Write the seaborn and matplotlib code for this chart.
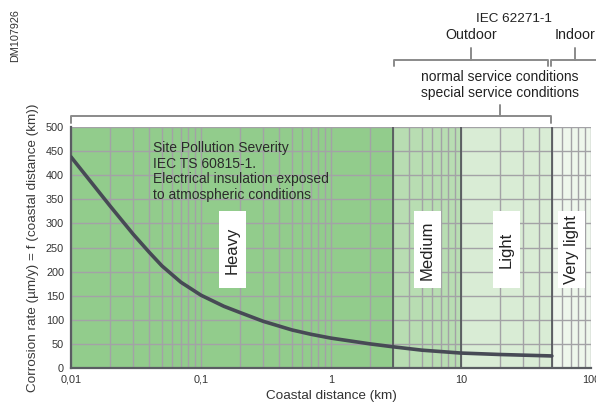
import matplotlib
matplotlib.use("Agg")
from matplotlib import pyplot as plt
from matplotlib.lines import Line2D
from matplotlib.patches import Rectangle
from matplotlib.ticker import FixedLocator, LogLocator, NullFormatter
import pandas as pd
import seaborn as sns

# corrosion curve
distance_km = [0.01, 0.02, 0.03, 0.04, 0.05, 0.07, 0.1, 0.15, 0.2, 0.3, 0.5, 0.7, 1, 2, 3, 5, 10, 20, 50]
corrosion = [438, 336, 278, 240, 212, 178, 151, 128, 115, 97, 79, 70, 62, 50, 44, 37, 31, 28, 25]

# pollution severity zones
zone_edges = [0.01, 3, 10, 50, 100]
zone_names = ["Heavy", "Medium", "Light", "Very light"]
zone_colors = ["#92cc8c", "#b8ddb2", "#d9ecd5", "#eef7ec"]

x_ticks = [0.01, 0.1, 1, 10, 100]
x_tick_labels = ["0,01", "0,1", "1", "10", "100"]
y_ticks = list(range(0, 501, 50))

W, H = 596, 408

sns.set_style("white")
plt.rcParams['font.family'] = ['Liberation Sans', 'DejaVu Sans']

fig = plt.figure(figsize=(W / 100, H / 100), dpi=100)
ax = fig.add_axes([71 / W, 40 / H, 520 / W, 241 / H])


def px(x, y):
    # pixel position (from top-left) -> figure fraction
    return x / W, 1 - y / H


def fig_line(xs, ys, color="#8a8a8a", lw=1.4):
    fx = [x / W for x in xs]
    fy = [1 - y / H for y in ys]
    fig.add_artist(Line2D(fx, fy, color=color, lw=lw, transform=fig.transFigure))


ax.set_xscale("log")
ax.set_xlim(zone_edges[0], zone_edges[-1])
ax.set_ylim(0, 500)

for i in range(len(zone_names)):
    ax.axvspan(zone_edges[i], zone_edges[i + 1], color=zone_colors[i], lw=0, zorder=0)

ax.xaxis.set_major_locator(FixedLocator(x_ticks))
ax.set_xticklabels(x_tick_labels)
ax.xaxis.set_minor_locator(LogLocator(base=10, subs=range(2, 10)))
ax.xaxis.set_minor_formatter(NullFormatter())
ax.set_yticks(y_ticks)
ax.grid(True, which="both", axis="x", color="#a3a2a6", lw=1.0, zorder=1)
ax.grid(True, which="major", axis="y", color="#a3a2a6", lw=1.0, zorder=1)
ax.set_axisbelow(True)
ax.tick_params(axis="both", which="both", length=0, labelsize=7.8, colors="#333333")
ax.tick_params(axis="x", pad=5)
ax.tick_params(axis="y", pad=5)

for edge in zone_edges[1:-1]:
    ax.axvline(edge, color="#4f5257", lw=1.2, zorder=2)

for side in ["top", "right"]:
    ax.spines[side].set_visible(False)
for side in ["left", "bottom"]:
    ax.spines[side].set_color("#5a5d62")
    ax.spines[side].set_linewidth(1.6)

df = pd.DataFrame({"distance": distance_km, "rate": corrosion})
sns.lineplot(data=df, x="distance", y="rate", color="#474a55", lw=2.6, ax=ax, zorder=4)

ax.set_xlabel("Coastal distance (km)", fontsize=9.7, color="#333333", labelpad=4)
ax.set_ylabel("Corrosion rate (µm/y) = f (coastal distance (km))", fontsize=9.7,
              color="#3a3a3a", labelpad=5)

ax.text(0.0425, 470, "Site Pollution Severity\nIEC TS 60815-1.\nElectrical insulation exposed\n"
        "to atmospheric conditions", fontsize=10, color="#2b2b2b", va="top", ha="left",
        linespacing=1.13, zorder=5)

# white label boxes for each zone
fig.canvas.draw()
box_w, box_h = 27, 77
for i, name in enumerate(zone_names):
    xc = (zone_edges[i] * zone_edges[i + 1]) ** 0.5
    cx, cy = ax.transData.transform((xc, 245))
    fig.add_artist(Rectangle(((cx - box_w / 2) / W, (cy - box_h / 2) / H), box_w / W, box_h / H,
                             facecolor="white", edgecolor="none", transform=fig.transFigure,
                             zorder=5))
    fig.text(cx / W, cy / H, name, rotation=90, ha="center", va="center", fontsize=12,
             color="#222222", zorder=6)

# brackets above the plot
fig_line([71, 71, 551, 551], [123, 116, 116, 123])
fig_line([500, 500], [116, 105])
fig.text(*px(500, 77), "normal service conditions", ha="center", va="center", fontsize=10,
         color="#222222")
fig.text(*px(500, 93), "special service conditions", ha="center", va="center", fontsize=10,
         color="#222222")

fig_line([394, 394, 548, 548], [66, 60, 60, 66])
fig_line([471, 471], [60, 48])
fig_line([551, 551, 600], [66, 60, 60])
fig_line([575, 575], [60, 48])
fig.text(*px(471, 35), "Outdoor", ha="center", va="center", fontsize=10.3, color="#222222")
fig.text(*px(575, 35), "Indoor", ha="center", va="center", fontsize=10.3, color="#222222")
fig.text(*px(514, 19), "IEC 62271-1", ha="center", va="center", fontsize=9.7, color="#222222")

fig.text(*px(15, 36), "DM107926", rotation=90, ha="center", va="center", fontsize=7.8,
         color="#333333")

fig.savefig("out.png", dpi=100)
